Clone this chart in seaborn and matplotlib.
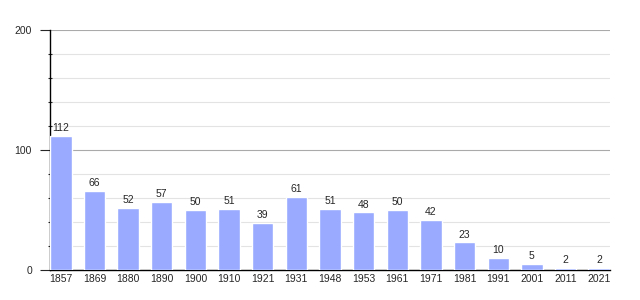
import matplotlib
matplotlib.use("Agg")
import matplotlib.pyplot as plt
import seaborn as sns
import pandas as pd
from matplotlib.ticker import MultipleLocator

years = ["1857", "1869", "1880", "1890", "1900", "1910", "1921", "1931", "1948",
         "1953", "1961", "1971", "1981", "1991", "2001", "2011", "2021"]
population = [112, 66, 52, 57, 50, 51, 39, 61, 51, 48, 50, 42, 23, 10, 5, 2, 2]

df = pd.DataFrame({"year": years, "pop": population})

sns.set_style("white")
plt.rcParams["font.family"] = ["Liberation Sans", "DejaVu Sans"]

fig = plt.figure(figsize=(6.4, 3.0), dpi=100)
ax = fig.add_axes([50 / 640, 30 / 300, 560 / 640, 240 / 300])

sns.barplot(data=df, x="year", y="pop", color="#99aaff", saturation=1,
            width=0.64, ax=ax, zorder=3)

ax.set_xlim(-0.32, len(years) - 0.68)
ax.set_ylim(0, 200)
ax.yaxis.set_major_locator(MultipleLocator(100))
ax.yaxis.set_minor_locator(MultipleLocator(20))
ax.grid(which="major", axis="y", color="#aaaaaa", linewidth=0.8, zorder=0)
ax.grid(which="minor", axis="y", color="#e3e3e3", linewidth=0.8, zorder=0)
ax.set_axisbelow(True)

for s in ["top", "right"]:
    ax.spines[s].set_visible(False)
for s in ["left", "bottom"]:
    ax.spines[s].set_color("black")
    ax.spines[s].set_linewidth(1.0)

ax.tick_params(axis="y", which="major", length=7, width=0.8, direction="out",
               labelsize=7.5, pad=6, left=True)
ax.tick_params(axis="y", which="minor", length=3, width=0.8, direction="inout",
               left=True)
ax.tick_params(axis="x", length=0, labelsize=7.5, pad=3)

for c in ax.containers:
    ax.bar_label(c, labels=[str(v) for v in population], fontsize=7.5, padding=2)

ax.set_xlabel("")
ax.set_ylabel("")

fig.savefig("out.png", dpi=100)
